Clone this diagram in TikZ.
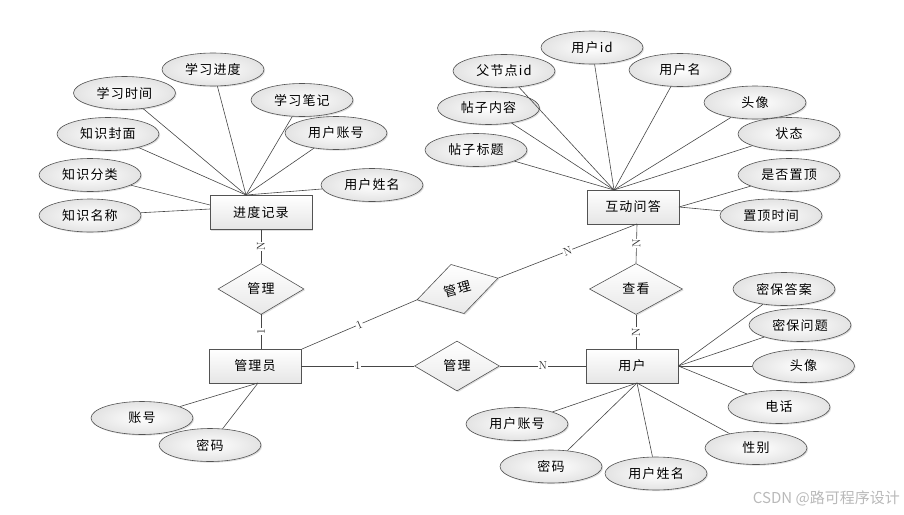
\documentclass[tikz,border=0pt]{standalone}
\usepackage{fontspec}
\newfontfamily\cjk[LetterSpace=9]{Noto Sans CJK SC}
\newfontfamily\cjkw{Noto Sans CJK SC}
\usetikzlibrary{shapes.geometric,shadows}
\tikzset{
  base/.style={draw=gray!65!black, line width=0.6pt, inner sep=0pt, font=\cjk\fontsize{13}{15}\selectfont,
    drop shadow={opacity=0.25, shadow xshift=1.2pt, shadow yshift=-1.2pt}},
  attr/.style={base, ellipse, minimum width=102pt, minimum height=33pt, inner color=white, outer color=gray!22},
  ent/.style={base, rectangle, minimum width=92pt, minimum height=34pt, top color=white, bottom color=gray!20},
  rel/.style={base, diamond, aspect=1.7, top color=white, bottom color=gray!18},
  conn/.style={draw=gray!55!black, line width=0.6pt},
  lbl/.style={font=\fontsize{11.5}{12}\selectfont, fill=white, inner sep=0.6pt, text=gray!30!black}
}
\begin{document}
\begin{tikzpicture}[x=1pt,y=-1pt]
\useasboundingbox (0,0) rectangle (904,514);
% entities
\node[ent, minimum width=102pt] (jd) at (261,212.5) {进度记录};
\node[ent] (hd) at (633,207) {互动问答};
\node[ent] (gly) at (255,366) {管理员};
\node[ent] (yh) at (632,366) {用户};
% relations
\node[rel, minimum width=86pt, minimum height=51pt] (r1) at (261,289) {管理};
\node[rel, minimum width=85pt, minimum height=50pt] (r2) at (457,366) {管理};
\node[rel, minimum width=93pt, minimum height=51pt] (r3) at (636,289) {查看};
\node[rel, minimum width=84pt, minimum height=51pt, rotate=15] (r4) at (457.5,289) {管理};
% convergence points
\coordinate (pj) at (246,195);
\coordinate (pj2) at (210,205);
\coordinate (pj3) at (210,209);
\coordinate (ph) at (614,190);
\coordinate (ph2) at (679,207);
\coordinate (hdb) at (637,224);
\coordinate (r1b) at (261,314);
\coordinate (glyt) at (261,349);
\coordinate (glytr) at (302,349);
\coordinate (glyb) at (258,383);
\coordinate (yhb) at (637,383);
\coordinate (yht) at (636,349);
% attributes of 进度记录
\node[attr] (a1) at (213,69.5) {学习进度};
\node[attr] (a2) at (124.5,93) {学习时间};
\node[attr] (a3) at (302,100) {学习笔记};
\node[attr] (a4) at (108,134) {知识封面};
\node[attr] (a5) at (336,133) {用户账号};
\node[attr] (a6) at (90,175) {知识分类};
\node[attr] (a7) at (372,185) {用户姓名};
\node[attr] (a8) at (90,215.5) {知识名称};
% attributes of 互动问答
\node[attr] (b1) at (592,47.5) {用户id};
\node[attr] (b2) at (504,71) {父节点id};
\node[attr] (b3) at (680,70) {用户名};
\node[attr] (b4) at (488.5,108) {帖子内容};
\node[attr] (b5) at (755,102.5) {头像};
\node[attr] (b6) at (476,150) {帖子标题};
\node[attr] (b7) at (789,134) {状态};
\node[attr] (b8) at (789,175) {是否置顶};
\node[attr] (b9) at (771,215.5) {置顶时间};
% attributes of 用户
\node[attr] (c1) at (784,289) {密保答案};
\node[attr] (c2) at (800,325) {密保问题};
\node[attr] (c3) at (803.5,366) {头像};
\node[attr] (c4) at (779,407) {电话};
\node[attr] (c5) at (756,448) {性别};
\node[attr] (c6) at (517,424) {用户账号};
\node[attr] (c7) at (551,466.5) {密码};
\node[attr] (c8) at (656,473.5) {用户姓名};
% attributes of 管理员
\node[attr] (d1) at (142,418) {账号};
\node[attr] (d2) at (210,445) {密码};
% attribute lines
\foreach \a in {a1,a2,a3,a4,a5,a7} \draw[conn] (\a) -- (pj);
\draw[conn] (a6) -- (pj2);
\draw[conn] (a8) -- (pj3);
\foreach \b in {b1,b2,b3,b4,b5,b6,b7} \draw[conn] (\b) -- (ph);
\draw[conn] (b8) -- (ph2);
\draw[conn] (b9) -- (ph2);
\foreach \c in {c1,c2,c3,c4} \draw[conn] (\c) -- (yh.east);
\foreach \c in {c5,c6,c7,c8} \draw[conn] (\c) -- (yhb);
\draw[conn] (d1) -- (glyb);
\draw[conn] (d2) -- (glyb);
% relationship lines
\draw[conn] (jd.south -| r1) -- node[lbl, rotate=90]{N} (r1.north);
\draw[conn] (r1b) -- node[lbl, rotate=90]{1} (glyt);
\draw[conn] (glytr) -- node[lbl, sloped]{1} (r4.west);
\draw[conn] (r4.east) -- node[lbl, sloped]{N} (hdb);
\draw[conn] (hdb) -- node[lbl, rotate=90]{N} (r3.north);
\draw[conn] (r3.south) -- node[lbl, rotate=90]{N} (yht);
\draw[conn] (gly.east) -- node[lbl]{1} (r2.west);
\draw[conn] (r2.east) -- node[lbl]{N} (yh.west);
% watermark
\node[font=\cjkw\fontsize{15}{17}\selectfont, text=gray!55, anchor=east, inner sep=0pt] (wm) at (900,498) {CSDN @路可程序设计};
\end{tikzpicture}
\end{document}
